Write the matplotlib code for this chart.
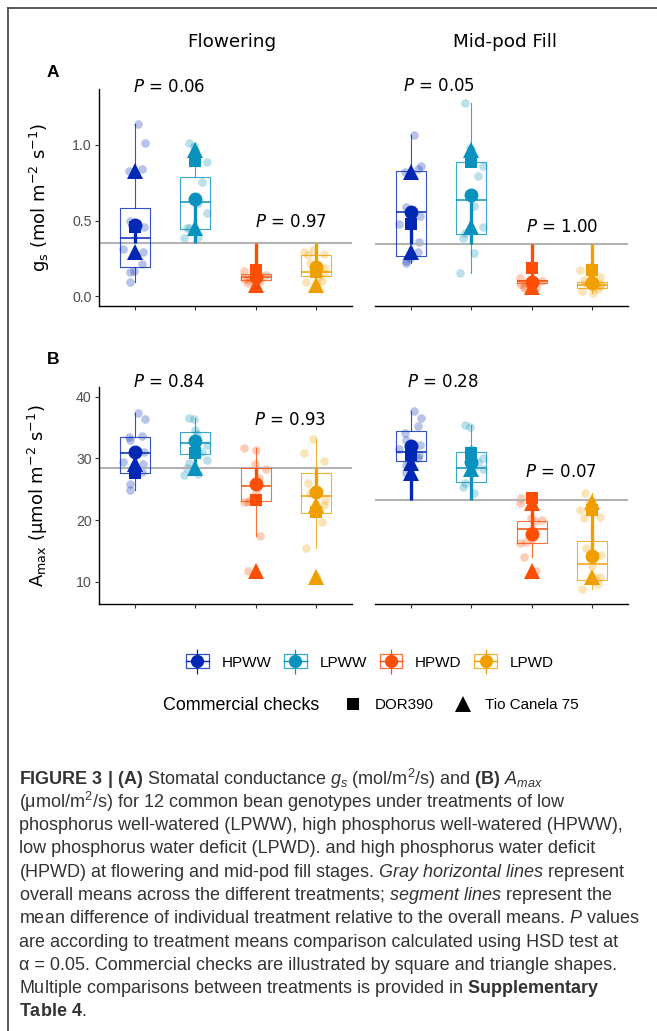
import numpy as np
import matplotlib
matplotlib.use('Agg')
import matplotlib.pyplot as plt
from matplotlib.lines import Line2D
from matplotlib.patches import Rectangle
from matplotlib.legend_handler import HandlerTuple
from matplotlib import font_manager

# データ ------------------------------------
treatments = ['HPWW', 'LPWW', 'HPWD', 'LPWD']
colors = ['#0028B4', '#0A92BE', '#FC4E07', '#EFA000']
stages = ['Flowering', 'Mid-pod Fill']

# gs, flowering
gs_fl_pts = [[1.139, 1.015, 0.843, 0.83, 0.50, 0.46, 0.315, 0.29, 0.211, 0.170, 0.163, 0.097],
             [1.011, 0.993, 0.967, 0.894, 0.886, 0.757, 0.615, 0.548, 0.453, 0.45, 0.39, 0.385],
             [0.17, 0.165, 0.15, 0.14, 0.135, 0.13, 0.125, 0.12, 0.115, 0.11, 0.10, 0.09],
             [0.306, 0.29, 0.28, 0.27, 0.22, 0.185, 0.174, 0.152, 0.13, 0.10, 0.097, 0.075]]
gs_fl_box = [[0.196, 0.387, 0.582, 0.097, 1.139],   # q1, median, q3, whisker low, whisker high
             [0.445, 0.621, 0.791, 0.385, 1.011],
             [0.108, 0.126, 0.145, 0.09, 0.17],
             [0.136, 0.163, 0.273, 0.075, 0.306]]
gs_fl_mean = [0.471, 0.645, 0.13, 0.196]
gs_fl_dor = [0.46, 0.894, 0.175, 0.16]
gs_fl_tio = [[0.831, 0.29], [0.967, 0.453], [0.077], [0.075]]
gs_fl_overall = 0.354
gs_fl_p = ['0.06', '0.97']

# gs, mid-pod fill
gs_mp_pts = [[1.066, 0.862, 0.842, 0.82, 0.588, 0.53, 0.476, 0.357, 0.291, 0.251, 0.235, 0.218],
             [1.276, 0.982, 0.967, 0.89, 0.863, 0.797, 0.60, 0.46, 0.416, 0.383, 0.288, 0.156],
             [0.12, 0.11, 0.105, 0.10, 0.097, 0.095, 0.09, 0.085, 0.08, 0.07, 0.063, 0.055],
             [0.196, 0.175, 0.13, 0.11, 0.09, 0.08, 0.075, 0.065, 0.06, 0.05, 0.035, 0.024]]
gs_mp_box = [[0.266, 0.555, 0.828, 0.218, 1.066],
             [0.41, 0.636, 0.886, 0.156, 1.276],
             [0.085, 0.098, 0.11, 0.055, 0.12],
             [0.057, 0.075, 0.093, 0.024, 0.196]]
gs_mp_mean = [0.556, 0.67, 0.097, 0.085]
gs_mp_dor = [0.476, 0.89, 0.185, 0.174]
gs_mp_tio = [[0.82, 0.291], [0.967, 0.46], [0.063], [0.12]]
gs_mp_overall = 0.348
gs_mp_p = ['0.05', '1.00']

# Amax, flowering
am_fl_pts = [[37.3, 36.3, 33.6, 33.4, 32.9, 31.1, 29.35, 29.08, 27.8, 27.6, 25.8, 24.86],
             [36.5, 36.4, 34.6, 33.9, 32.2, 31.0, 30.8, 29.8, 29.2, 28.4, 27.5, 27.3],
             [31.7, 31.4, 29.1, 28.2, 26.8, 25.5, 24.3, 23.2, 23.0, 22.9, 17.4, 11.8],
             [33.08, 30.81, 29.5, 26.0, 24.3, 23.2, 22.6, 22.4, 21.6, 19.6, 15.4, 10.7]]
am_fl_box = [[27.57, 30.91, 33.5, 24.86, 37.3],
             [30.65, 32.53, 34.31, 27.3, 36.58],
             [23.13, 25.56, 28.38, 17.41, 31.74],
             [21.18, 23.89, 27.57, 15.41, 33.08]]
am_fl_mean = [31.07, 32.8, 25.8, 24.5]
am_fl_dor = [27.6, 30.8, 23.24, 21.35]
am_fl_tio = [[29.0], [28.5], [11.8], [22.4, 10.7]]
am_fl_overall = 28.38
am_fl_p = ['0.84', '0.93']

# Amax, mid-pod fill
am_mp_pts = [[37.67, 36.48, 35.29, 34.05, 33.0, 32.16, 31.5, 30.54, 30.0, 29.19, 28.91, 27.57],
             [35.4, 35.12, 31.46, 30.8, 30.0, 29.4, 28.54, 28.3, 26.05, 25.4, 24.33],
             [23.5, 22.7, 22.16, 20.27, 20.0, 19.8, 18.5, 17.0, 16.49, 16.22, 14.05, 11.7],
             [24.33, 22.87, 21.62, 20.54, 20.37, 15.41, 14.33, 12.5, 10.81, 10.55, 9.58, 8.82]]
am_mp_box = [[29.56, 31.07, 34.42, 27.57, 37.67],
             [26.11, 28.48, 31.07, 24.33, 35.4],
             [16.22, 18.54, 19.84, 14.05, 23.5],
             [10.28, 12.87, 16.6, 8.82, 24.33]]
am_mp_mean = [32.0, 29.4, 17.8, 14.2]
am_mp_dor = [30.5, 30.8, 23.5, 21.62]
am_mp_tio = [[29.2, 27.6], [28.3], [22.7, 11.7], [22.87, 10.81]]
am_mp_overall = 23.24
am_mp_p = ['0.28', '0.07']

caption = [
    r'$\mathbf{FIGURE\ 3\ |\ (A)}$ Stomatal conductance $\mathit{g_s}$ (mol/m$^2$/s) and $\mathbf{(B)}$ $\mathit{A_{max}}$',
    r'(μmol/m$^2$/s) for 12 common bean genotypes under treatments of low',
    'phosphorus well-watered (LPWW), high phosphorus well-watered (HPWW),',
    'low phosphorus water deficit (LPWD). and high phosphorus water deficit',
    r'(HPWD) at flowering and mid-pod fill stages. $\mathit{Gray\ horizontal\ lines}$ represent',
    r'overall means across the different treatments; $\mathit{segment\ lines}$ represent the',
    r'mean difference of individual treatment relative to the overall means. $\mathit{P}$ values',
    'are according to treatment means comparison calculated using HSD test at',
    'α = 0.05. Commercial checks are illustrated by square and triangle shapes.',
    r'Multiple comparisons between treatments is provided in $\mathbf{Supplementary}$',
    r'$\mathbf{Table\ 4}$.',
]

# フォント -----------------------------------
installed = {f.name for f in font_manager.fontManager.ttflist}
if 'Liberation Sans Narrow' in installed:
    cap_font, cap_size = 'Liberation Sans Narrow', 14.2
else:
    cap_font, cap_size = 'Liberation Sans', 13.0
plt.rcParams['mathtext.fontset'] = 'custom'
plt.rcParams['mathtext.rm'] = cap_font
plt.rcParams['mathtext.it'] = cap_font + ':italic'
plt.rcParams['mathtext.bf'] = cap_font + ':bold'

W, H = 657, 1031


def rect(x0, y0, x1, y1):
    return [x0 / W, 1 - y1 / H, (x1 - x0) / W, (y1 - y0) / H]


def show_panel(ax, pts, box, mean, dor, tio, overall, pvals, p_x, p_y, ylim, left):
    rng = np.random.default_rng(7)
    ax.axhline(overall, color='#B3B3B3', lw=1.5, zorder=1.5)
    for k in range(4):
        c = colors[k]
        pos = k + 1
        v = np.array(pts[k])
        xj = pos + rng.uniform(-0.2, 0.2, len(v))
        ax.plot(xj, v, 'o', ms=6.2, color=c, alpha=0.28, mew=0, zorder=1)
        st = [dict(q1=box[k][0], med=box[k][1], q3=box[k][2],
                   whislo=box[k][3], whishi=box[k][4])]
        ax.bxp(st, positions=[pos], widths=0.5, showcaps=False, showfliers=False,
               boxprops=dict(color=c, lw=0.8, alpha=0.8),
               whiskerprops=dict(color=c, lw=0.8, alpha=0.8),
               medianprops=dict(color=c, lw=1.1), zorder=2)
        ax.plot([pos, pos], [overall, mean[k]], color=c, lw=2.4,
                solid_capstyle='butt', zorder=3)
        ax.plot([pos], [dor[k]], 's', ms=8.5, color=c, mew=0, zorder=4)
        ax.plot([pos] * len(tio[k]), tio[k], '^', ms=11, color=c, mew=0, zorder=4)
        ax.plot([pos], [mean[k]], 'o', ms=10, color=c, mew=0, zorder=5)
    for j in range(2):
        ax.text(p_x[j], p_y[j], r'$P$ = ' + pvals[j], ha='center', va='center',
                fontsize=12, family='DejaVu Sans', math_fontfamily='dejavusans',
                clip_on=False)
    ax.set_xlim(0.4, 4.6)
    ax.set_ylim(ylim)
    ax.set_xticks([1, 2, 3, 4])
    ax.set_xticklabels([])
    for s in ['top', 'right']:
        ax.spines[s].set_visible(False)
    ax.spines['bottom'].set_linewidth(1.0)
    ax.spines['left'].set_linewidth(1.0)
    ax.tick_params(axis='both', length=2.8, width=0.8, colors='#333333',
                   labelcolor='#4D4D4D', labelsize=10.2, pad=2.5)
    if not left:
        ax.spines['left'].set_visible(False)
        ax.set_yticks([])
    ax.set_facecolor('none')


# メイン ------------------------------------
fig = plt.figure(figsize=(W / 100, H / 100), dpi=100)
plt.rcParams['font.family'] = ['Liberation Sans', 'DejaVu Sans']

axA1 = fig.add_axes(rect(99, 89, 352, 306))
axA2 = fig.add_axes(rect(375, 89, 628, 306))
axB1 = fig.add_axes(rect(99, 387, 352, 604))
axB2 = fig.add_axes(rect(375, 387, 628, 604))

show_panel(axA1, gs_fl_pts, gs_fl_box, gs_fl_mean, gs_fl_dor, gs_fl_tio, gs_fl_overall,
           gs_fl_p, [1.56, 3.58], [1.38, 0.49], (-0.064, 1.37), True)
show_panel(axA2, gs_mp_pts, gs_mp_box, gs_mp_mean, gs_mp_dor, gs_mp_tio, gs_mp_overall,
           gs_mp_p, [1.46, 3.5], [1.39, 0.46], (-0.064, 1.37), False)
show_panel(axB1, am_fl_pts, am_fl_box, am_fl_mean, am_fl_dor, am_fl_tio, am_fl_overall,
           am_fl_p, [1.56, 3.58], [42.4, 36.2], (6.39, 41.56), True)
show_panel(axB2, am_mp_pts, am_mp_box, am_mp_mean, am_mp_dor, am_mp_tio, am_mp_overall,
           am_mp_p, [1.52, 3.49], [42.4, 27.8], (6.39, 41.56), False)

axA1.set_yticks([0.0, 0.5, 1.0])
axA1.set_yticklabels(['0.0', '0.5', '1.0'])
axB1.set_yticks([10, 20, 30, 40])

axA1.set_ylabel(r'g$_{\mathrm{s}}$ (mol m$^{-2}$ s$^{-1}$)', fontsize=13,
                family='DejaVu Sans', math_fontfamily='dejavusans', color='black')
axA1.yaxis.set_label_coords((52 - 99) / 253, 0.5)
axB1.set_ylabel(r'A$_{\mathrm{max}}$ (μmol m$^{-2}$ s$^{-1}$)', fontsize=13,
                family='DejaVu Sans', math_fontfamily='dejavusans', color='black')
axB1.yaxis.set_label_coords((50 - 99) / 253, 0.5)

# ストリップ, パネル記号
fig.text(232 / W, 1 - 42 / H, stages[0], ha='center', va='center', fontsize=13.2,
         family='DejaVu Sans')
fig.text(505 / W, 1 - 42 / H, stages[1], ha='center', va='center', fontsize=13.2,
         family='DejaVu Sans')
fig.text(53 / W, 1 - 72.5 / H, 'A', ha='center', va='center', fontsize=12.5,
         fontweight='bold')
fig.text(53 / W, 1 - 359 / H, 'B', ha='center', va='center', fontsize=12.5,
         fontweight='bold')

# 凡例 ---------------------------------------
handles = []
for c in colors:
    handles.append((Rectangle((0, 0), 1, 1, fill=False, edgecolor=c, lw=0.9, alpha=0.8),
                    Line2D([0], [0], color=c, lw=1.0),
                    Line2D([0], [0], ls='', marker='|', ms=18, mew=0.9, color=c),
                    Line2D([0], [0], ls='', marker='o', ms=9.5, mew=0, color=c)))
fig.legend(handles, treatments, loc='center', bbox_to_anchor=(370 / W, 1 - 662 / H),
           ncol=4, frameon=False, fontsize=11, handlelength=1.45, handleheight=1.0,
           handletextpad=0.85, columnspacing=0.85,
           handler_map={tuple: HandlerTuple(ndivide=1, pad=0)})

fig.text(163 / W, 1 - 705 / H, 'Commercial checks', ha='left', va='center', fontsize=12.9)
chk = [Line2D([0], [0], ls='', marker='s', ms=8.5, mew=0, color='black'),
       Line2D([0], [0], ls='', marker='^', ms=11, mew=0, color='black')]
fig.legend(chk, ['DOR390', 'Tio Canela 75'], loc='center left',
           bbox_to_anchor=(330 / W, 1 - 705 / H), ncol=2, frameon=False, fontsize=10.9,
           handlelength=1.2, handletextpad=0.85, columnspacing=1.35)

# 外枠
fig.add_artist(Line2D([8 / W, 1], [1 - 8 / H, 1 - 8 / H], transform=fig.transFigure,
                      color='#4D4D4D', lw=1.3))
fig.add_artist(Line2D([8 / W, 8 / W], [0, 1 - 8 / H], transform=fig.transFigure,
                      color='#4D4D4D', lw=1.3))

# キャプション
for i, line in enumerate(caption):
    fig.text(19 / W, 1 - (779 + i * 23.3) / H, line, ha='left', va='center',
             fontsize=cap_size, family=[cap_font, 'DejaVu Sans'], color='#333333',
             math_fontfamily='custom')

fig.savefig('out.png', dpi=100)
